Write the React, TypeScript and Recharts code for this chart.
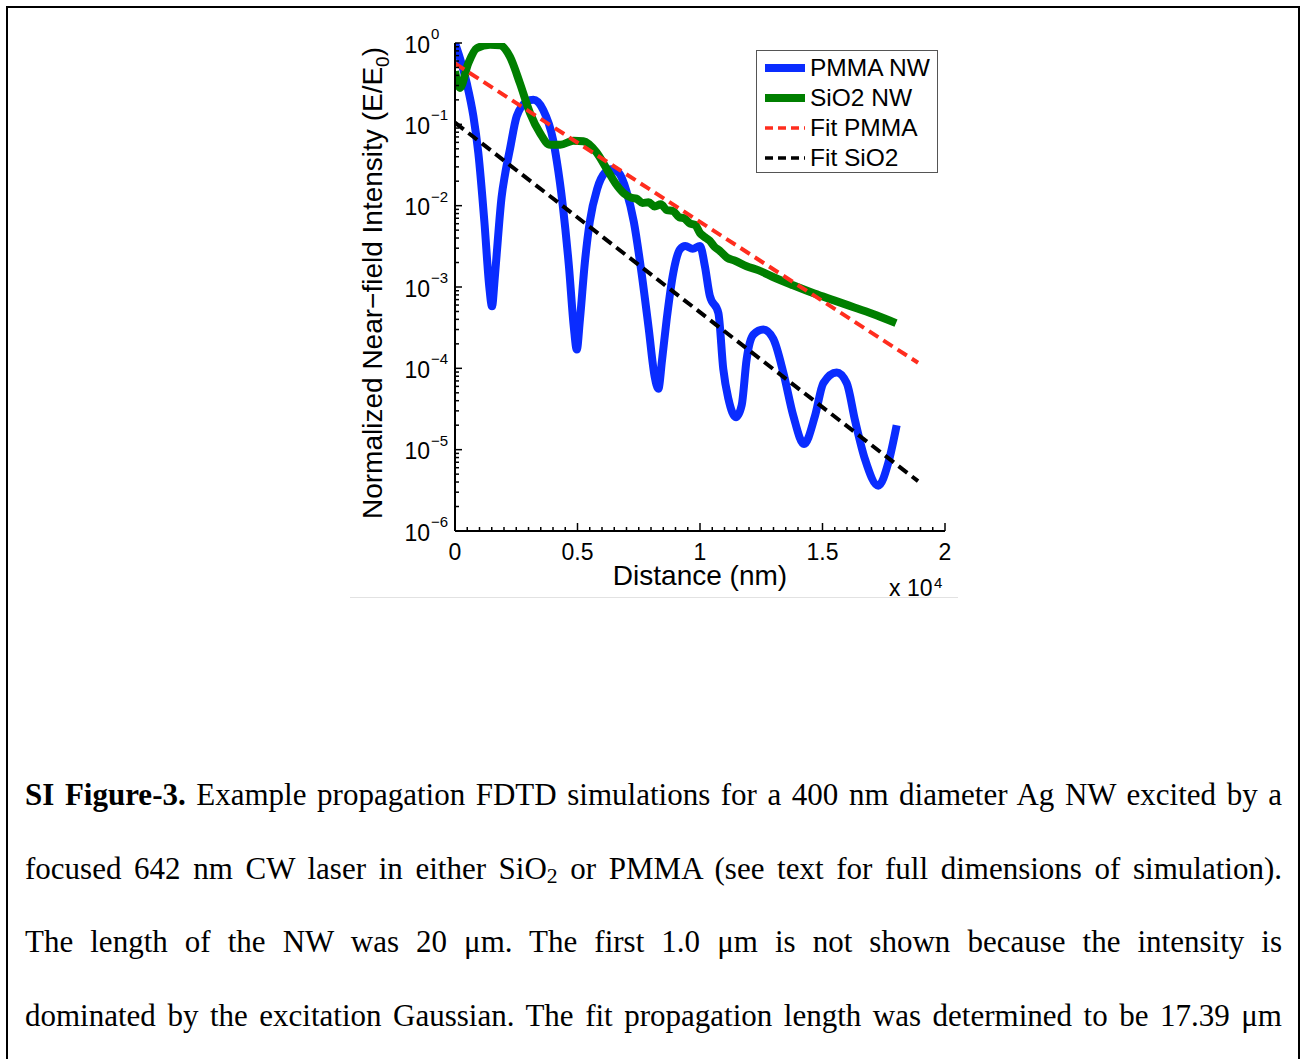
import { Legend, Line, LineChart, XAxis, YAxis } from "recharts";

// distance along the wire (nm) and normalized near-field intensity
const pmmaX = [
  0, 480, 750, 950, 1200, 1400, 1510, 1620, 1700, 1900, 2050, 2240, 2520, 2930, 3200,
  3600, 4000, 4150, 4400, 4650, 4850, 4970, 5100, 5300, 5500, 5800, 6100, 6400, 6700,
  7000, 7300, 7600, 7900, 8150, 8300, 8450, 8640, 8910, 9180, 9400, 9700, 10000, 10200,
  10400, 10750, 10950, 11160, 11470, 11700, 11905, 12177, 12585, 12993, 13400, 13810,
  14245, 14694, 15034, 15578, 15987, 16326, 16735, 17278, 17686, 18027,
];
const pmmaY = [
  1.0, 0.32, 0.126, 0.045, 6.3e-3, 1.0e-3, 5.8e-4, 1.26e-3, 2.5e-3, 1.26e-2, 2.5e-2,
  4.9e-2, 0.126, 0.19, 0.2, 0.15, 0.065, 0.036, 1.0e-2, 1.8e-3, 3.2e-4, 1.7e-4, 4.0e-4,
  2.0e-3, 6.3e-3, 1.6e-2, 2.5e-2, 2.8e-2, 2.5e-2, 1.5e-2, 6.3e-3, 1.6e-3, 3.2e-4, 7.9e-5,
  5.6e-5, 1.26e-4, 4.0e-4, 1.5e-3, 2.9e-3, 3.2e-3, 2.95e-3, 3.2e-3, 1.8e-3, 7.8e-4,
  4.8e-4, 9.8e-5, 4.2e-5, 2.5e-5, 3.5e-5, 1.3e-4, 2.6e-4, 3.0e-4, 2.3e-4, 8.9e-5, 2.6e-5,
  1.17e-5, 2.6e-5, 6.6e-5, 8.9e-5, 6.6e-5, 2.3e-5, 7.6e-6, 3.6e-6, 6.9e-6, 2.0e-5,
];

const sio2X = [
  0, 200, 540, 890, 1430, 1840, 2240, 2650, 3060, 3470, 3880, 4300, 4830, 5240, 5780,
  6200, 6560, 6900, 7200, 7400, 7650, 7900, 8150, 8400, 8650, 8900, 9150, 9350, 9600,
  9800, 10000, 10150, 10400, 10600, 10800, 11100, 11430, 11900, 12400, 13050, 13800,
  14670, 15500, 16300, 17200, 18000,
];
const sio2Y = [
  0.45, 0.28, 0.56, 0.86, 0.95, 0.94, 0.68, 0.32, 0.138, 0.078, 0.056, 0.056, 0.063,
  0.062, 0.045, 0.028, 0.0186, 0.0141, 0.0125, 0.0122, 0.0108, 0.011, 0.0098, 0.0104,
  0.0088, 0.0086, 0.0072, 0.007, 0.006, 0.0058, 0.0046, 0.0042, 0.0037, 0.0031, 0.0028,
  2.3e-3, 2.1e-3, 1.8e-3, 1.6e-3, 1.3e-3, 1.05e-3, 8.3e-4, 6.8e-4, 5.6e-4, 4.5e-4, 3.6e-4,
];

const fitPmmaX = [0, 18900];
const fitPmmaY = [0.56, 1.17e-4];
const fitSio2X = [0, 18900];
const fitSio2Y = [0.105, 4.1e-6];

const seriesNames = ["PMMA NW", "SiO2 NW", "Fit PMMA", "Fit SiO2"];

const xMajorTicks = [0, 5000, 10000, 15000, 20000];
const xTickLabels = ["0", "0.5", "1", "1.5", "2"];
const xTicks = Array.from({ length: 41 }, (_, i) => i * 500);

const decades = [-6, -5, -4, -3, -2, -1, 0];
const minorSteps = [2, 3, 4, 5, 6, 7, 8, 9];
const yMajorTicks = decades.map((e) => Math.pow(10, e));
const yTicks = decades.flatMap((e) =>
  e === 0 ? [1] : [Math.pow(10, e), ...minorSteps.map((m) => m * Math.pow(10, e))]
);

const zip = (xs: number[], ys: number[]) => xs.map((x, i) => ({ x, y: ys[i] }));

const pmmaRows = zip(pmmaX, pmmaY);
const sio2Rows = zip(sio2X, sio2Y);
const fitPmmaRows = zip(fitPmmaX, fitPmmaY);
const fitSio2Rows = zip(fitSio2X, fitSio2Y);

const sans = "'Liberation Sans', Arial, Helvetica, sans-serif";
const serif = "'Liberation Serif', 'Times New Roman', serif";

function XTick(props: any) {
  const { x, y, payload } = props;
  const idx = xMajorTicks.indexOf(payload.value);
  const major = idx >= 0;
  return (
    <g>
      <line x1={x} x2={x} y1={y} y2={y - (major ? 8 : 4)} stroke="#000" strokeWidth={1.5} />
      {major && (
        <text x={x} y={y + 29} textAnchor="middle" fontSize={23} fontFamily={sans} fill="#000">
          {xTickLabels[idx]}
        </text>
      )}
    </g>
  );
}

function YTick(props: any) {
  const { x, y, payload } = props;
  const idx = yMajorTicks.indexOf(payload.value);
  const major = idx >= 0;
  const exp = decades[idx];
  return (
    <g>
      <line x1={x} x2={x + (major ? 7 : 4)} y1={y} y2={y} stroke="#000" strokeWidth={1.5} />
      {major && (
        <>
          <text x={x - 25} y={y + 9.5} textAnchor="end" fontSize={23} fontFamily={sans} fill="#000">
            10
          </text>
          <text x={x - 24} y={y - 4} fontSize={15} fontFamily={sans} fill="#000">
            {exp === 0 ? "0" : "\u2212" + Math.abs(exp)}
          </text>
        </>
      )}
    </g>
  );
}

function YTitle(props: any) {
  const vb = props.viewBox || { x: 55, y: 23, width: 60, height: 488 };
  const cx = vb.x - 13;
  const cy = vb.y + vb.height / 2 - 4;
  return (
    <text
      x={cx}
      y={cy}
      transform={`rotate(-90 ${cx} ${cy})`}
      textAnchor="middle"
      fontSize={28}
      fontFamily={sans}
      fill="#000"
    >
      Normalized Near{"\u2212"}field Intensity (E/E
      <tspan dy={7} fontSize={19}>0</tspan>
      <tspan dy={-7}>)</tspan>
    </text>
  );
}

function XTitle(props: any) {
  const vb = props.viewBox || { x: 115, y: 511, width: 490, height: 40 };
  const cx = vb.x + vb.width / 2;
  const right = vb.x + vb.width;
  return (
    <g fontFamily={sans} fill="#000">
      <text x={cx} y={vb.y + 54} textAnchor="middle" fontSize={28}>
        Distance (nm)
      </text>
      <text x={right - 56} y={vb.y + 65} fontSize={23}>
        x 10
      </text>
      <text x={right - 11} y={vb.y + 57} fontSize={15}>
        4
      </text>
    </g>
  );
}

const legendLook: Record<string, { color: string; width: number; dash?: string }> = {
  "PMMA NW": { color: "#0a2cff", width: 8 },
  "SiO2 NW": { color: "#007f00", width: 8 },
  "Fit PMMA": { color: "#ff2d1e", width: 3.5, dash: "8 5" },
  "Fit SiO2": { color: "#000000", width: 3.5, dash: "8 5" },
};

function LegendBox(props: any) {
  const items: any[] = [...(props.payload || [])].sort(
    (a, b) => seriesNames.indexOf(a.value) - seriesNames.indexOf(b.value)
  );
  return (
    <div
      style={{
        width: 182,
        height: 123,
        boxSizing: "border-box",
        border: "1px solid #555",
        background: "#fff",
        paddingTop: 2,
        fontFamily: sans,
        fontSize: 24.5,
      }}
    >
      {items.map((it) => {
        const look = legendLook[it.value] || { color: it.color, width: 3 };
        return (
          <div key={it.value} style={{ height: 30, display: "flex", alignItems: "center" }}>
            <svg width={53} height={30} style={{ flex: "none" }}>
              <line
                x1={8}
                x2={48}
                y1={15}
                y2={15}
                stroke={look.color}
                strokeWidth={look.width}
                strokeDasharray={look.dash}
              />
            </svg>
            <span style={{ lineHeight: "30px", color: "#000" }}>{it.value}</span>
          </div>
        );
      })}
    </div>
  );
}

const captionLines = [
  <>
    <b>SI Figure-3.</b> Example propagation FDTD simulations for a 400 nm diameter Ag NW excited by a
  </>,
  <>
    focused 642 nm CW laser in either SiO
    <span style={{ fontSize: "0.7em", verticalAlign: "-0.2em", lineHeight: 0 }}>2</span> or PMMA (see text
    for full dimensions of simulation).
  </>,
  <>The length of the NW was 20 μm. The first 1.0 μm is not shown because the intensity is</>,
  <>dominated by the excitation Gaussian. The fit propagation length was determined to be 17.39 μm</>,
];
const captionTops = [775, 848.5, 922, 995.5];

export default function App() {
  return (
    <div
      style={{
        position: "absolute",
        left: 0,
        top: 0,
        width: 1304,
        height: 1059,
        overflow: "hidden",
        background: "#fff",
      }}
    >
      <div
        style={{
          position: "absolute",
          left: 6,
          top: 6,
          width: 1294,
          height: 1120,
          boxSizing: "border-box",
          border: "2px solid #000",
        }}
      />
      <div style={{ position: "absolute", left: 340, top: 20 }}>
        <LineChart width={620} height={580} margin={{ top: 23, right: 15, bottom: 29, left: 55 }}>
          <XAxis
            dataKey="x"
            type="number"
            domain={[0, 20000]}
            ticks={xTicks}
            interval={0}
            allowDataOverflow
            height={40}
            tickSize={0}
            tickMargin={0}
            tickLine={false}
            tick={<XTick />}
            axisLine={{ stroke: "#000", strokeWidth: 2 }}
            label={{ content: <XTitle /> }}
          />
          <YAxis
            dataKey="y"
            type="number"
            scale="log"
            domain={[1e-6, 1]}
            ticks={yTicks}
            interval={0}
            allowDataOverflow
            width={60}
            tickSize={0}
            tickMargin={0}
            tickLine={false}
            tick={<YTick />}
            axisLine={{ stroke: "#000", strokeWidth: 2 }}
            label={{ content: <YTitle /> }}
          />
          <Legend
            layout="vertical"
            align="center"
            verticalAlign="middle"
            wrapperStyle={{ left: 416, top: 30, width: 182, height: 123 }}
            content={<LegendBox />}
          />
          <Line
            data={pmmaRows}
            dataKey="y"
            name="PMMA NW"
            type="monotone"
            stroke="#0a2cff"
            strokeWidth={8}
            strokeLinejoin="round"
            dot={false}
            activeDot={false}
            isAnimationActive={false}
          />
          <Line
            data={sio2Rows}
            dataKey="y"
            name="SiO2 NW"
            type="monotone"
            stroke="#007f00"
            strokeWidth={8}
            strokeLinejoin="round"
            dot={false}
            activeDot={false}
            isAnimationActive={false}
          />
          <Line
            data={fitPmmaRows}
            dataKey="y"
            name="Fit PMMA"
            type="linear"
            stroke="#ff2d1e"
            strokeWidth={4}
            strokeDasharray="11 6"
            dot={false}
            activeDot={false}
            isAnimationActive={false}
          />
          <Line
            data={fitSio2Rows}
            dataKey="y"
            name="Fit SiO2"
            type="linear"
            stroke="#000000"
            strokeWidth={4}
            strokeDasharray="11 6"
            dot={false}
            activeDot={false}
            isAnimationActive={false}
          />
        </LineChart>
      </div>
      <div style={{ position: "absolute", left: 350, top: 597, width: 608, height: 1, background: "#e2e2e2" }} />
      {captionLines.map((line, i) => (
        <div
          key={i}
          style={{
            position: "absolute",
            left: 25,
            top: captionTops[i],
            width: 1257,
            fontFamily: serif,
            fontSize: 31,
            lineHeight: "40px",
            textAlign: "justify",
            textAlignLast: "justify",
            color: "#000",
          }}
        >
          {line}
        </div>
      ))}
    </div>
  );
}
